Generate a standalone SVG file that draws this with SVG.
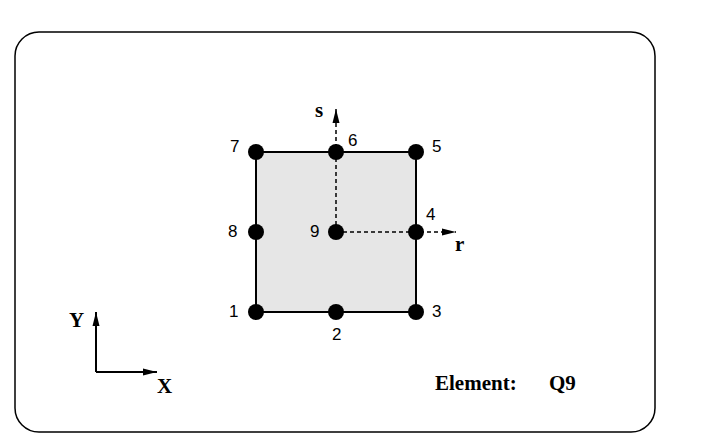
<svg xmlns="http://www.w3.org/2000/svg" width="705" height="448" viewBox="0 0 705 448">
<style>
.n{fill:#000}
.lbl{font-family:"Liberation Sans",Arial,sans-serif;font-size:17px;fill:#000}
.b{font-family:"Liberation Serif","Times New Roman",serif;font-weight:bold;font-size:21px;fill:#000}
.d{stroke:#000;stroke-width:1.5;stroke-dasharray:4,3;fill:none}
.a{stroke:#000;stroke-width:2;fill:none}
</style>
<defs>
<marker id="ah" viewBox="0 0 14 10" refX="14" refY="5" markerWidth="14" markerHeight="10" markerUnits="userSpaceOnUse" orient="auto"><path d="M0,1.5L14,5L0,8.5z" fill="#000"/></marker>
</defs>
<rect x="15" y="32" width="640" height="400" rx="24" fill="#fff" stroke="#000" stroke-width="1.5"/>
<rect id="element" x="256" y="152" width="160" height="160" fill="#e6e6e6" stroke="#000" stroke-width="2"/>
<g id="connectors">
<line class="d" x1="336" y1="232" x2="336" y2="109" marker-end="url(#ah)"/>
<line class="d" x1="336" y1="232" x2="456" y2="232" marker-end="url(#ah)"/>
<line class="a" x1="96" y1="372" x2="96" y2="312" marker-end="url(#ah)"/>
<line class="a" x1="96" y1="372" x2="157" y2="372" marker-end="url(#ah)"/>
</g>
<g id="n1"><circle class="n" cx="256" cy="312" r="8"/><text class="lbl" x="229" y="317">1</text></g>
<g id="n2"><circle class="n" cx="336" cy="312" r="8"/><text class="lbl" x="332" y="340">2</text></g>
<g id="n3"><circle class="n" cx="416" cy="312" r="8"/><text class="lbl" x="432" y="317">3</text></g>
<g id="n4"><circle class="n" cx="416" cy="232" r="8"/><text class="lbl" x="426" y="220">4</text></g>
<g id="n5"><circle class="n" cx="416" cy="152" r="8"/><text class="lbl" x="432" y="152">5</text></g>
<g id="n6"><circle class="n" cx="336" cy="152" r="8"/><text class="lbl" x="348" y="146">6</text></g>
<g id="n7"><circle class="n" cx="256" cy="152" r="8"/><text class="lbl" x="230" y="152">7</text></g>
<g id="n8"><circle class="n" cx="256" cy="232" r="8"/><text class="lbl" x="228" y="237">8</text></g>
<g id="n9"><circle class="n" cx="336" cy="232" r="8"/><text class="lbl" x="310" y="237">9</text></g>
<text class="b" x="315" y="117">s</text>
<text class="b" x="455" y="251">r</text>
<text class="b" x="69" y="327">Y</text>
<text class="b" x="157" y="393">X</text>
<text class="b" x="435" y="390">Element:</text>
<text class="b" x="549" y="390">Q9</text>
</svg>
